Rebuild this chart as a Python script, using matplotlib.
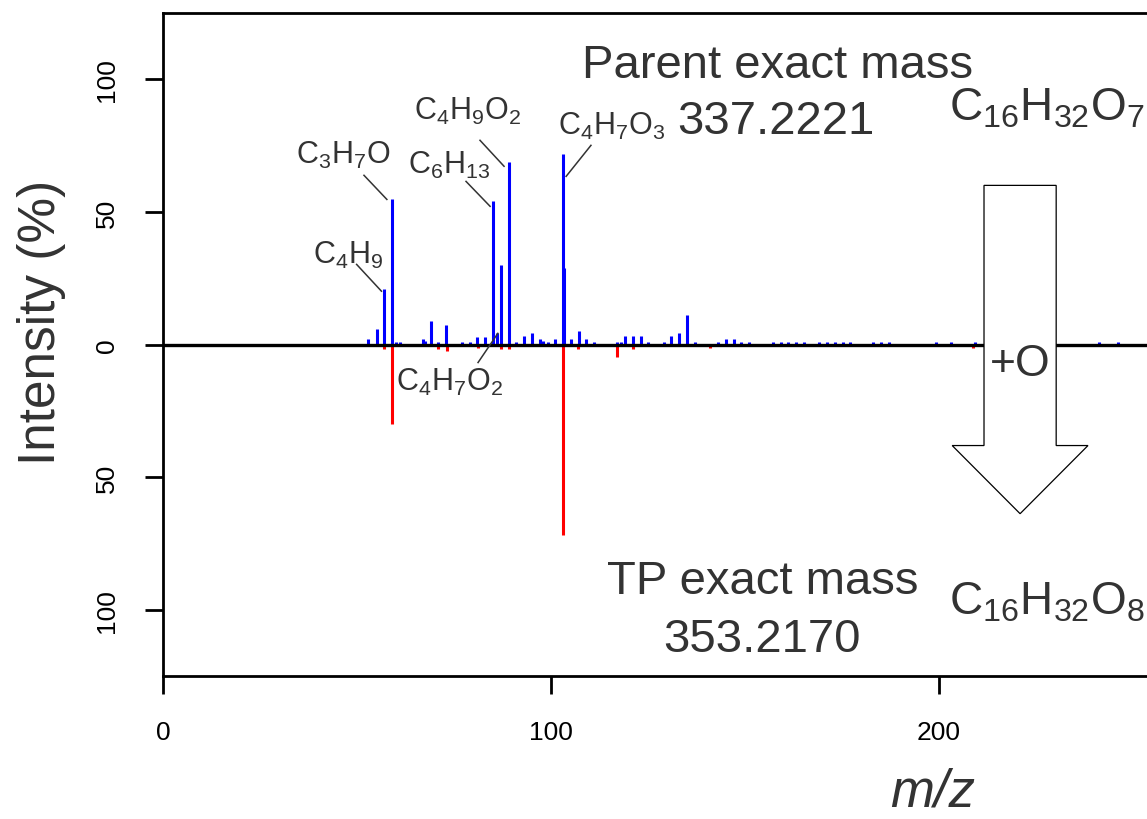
import matplotlib
matplotlib.use("Agg")
import matplotlib.pyplot as plt
from matplotlib.patches import Polygon

plt.rcParams['font.family'] = ['Liberation Sans', 'DejaVu Sans']
plt.rcParams['mathtext.fontset'] = 'custom'
plt.rcParams['mathtext.rm'] = 'Liberation Sans'
plt.rcParams['mathtext.it'] = 'Liberation Sans:italic'

# parent spectrum (drawn upward, blue)
parent_mz = [52.9, 55.1, 57.07, 59.05, 60.1, 61.1, 67.1, 67.6, 69.1, 71.0,
             73.0, 77.1, 79.0, 81.0, 83.1, 85.10, 86.0, 87.04, 89.06, 91.1,
             93.0, 95.0, 97.1, 98.0, 99.1, 101.1, 103.04, 103.4, 105.2, 107.1,
             109.1, 111.2, 117.1, 118.0, 119.2, 121.1, 123.1, 125.1, 129.0, 131.0,
             133.1, 135.1, 137.0, 143.0, 145.0, 147.1, 149.0, 151.1, 157.2, 159.2,
             161.2, 163.2, 165.2, 169.2, 171.1, 173.2, 175.2, 177.1, 183.1, 185.1,
             187.1, 199.2, 203.0, 209.2, 241.2, 246.2]
parent_int = [2.1, 6.0, 21.0, 55.0, 1.1, 1.1, 2.0, 1.5, 9.0, 1.0,
              7.2, 1.0, 1.0, 3.0, 3.0, 54.0, 4.5, 30.0, 69.0, 1.0,
              3.1, 4.2, 2.1, 1.3, 1.1, 2.1, 72.0, 29.0, 2.1, 5.2,
              2.1, 1.1, 1.0, 1.0, 3.1, 3.1, 3.1, 1.1, 1.1, 3.1,
              4.2, 11.1, 1.1, 1.1, 2.1, 2.1, 1.1, 1.1, 1.1, 1.1,
              1.1, 1.1, 1.1, 1.1, 1.1, 1.1, 1.1, 1.1, 1.1, 1.1,
              1.1, 1.0, 1.0, 1.0, 1.0, 1.0]

# transformation product spectrum (drawn downward, red)
tp_mz = [57.0, 59.05, 71.0, 73.1, 81.1, 87.1, 89.2, 103.04, 107.0, 117.1,
         121.1, 141.1, 208.7]
tp_int = [1.6, 29.8, 1.6, 2.5, 1.3, 1.6, 1.6, 72.0, 1.6, 4.7,
          1.6, 1.2, 1.5]

# fragment labels: text, text x, text baseline y, leader start, leader end
frag_labels = [r'$\mathregular{C_4H_9}$', r'$\mathregular{C_3H_7O}$',
               r'$\mathregular{C_6H_{13}}$', r'$\mathregular{C_4H_9O_2}$',
               r'$\mathregular{C_4H_7O_3}$', r'$\mathregular{C_4H_7O_2}$']
frag_xy = [(47.6, 30.9), (46.4, 68.6), (73.8, 64.8), (78.5, 84.9),
           (115.5, 79.6), (73.8, -17.0)]
frag_lines = [((49.9, 30.2), (56.3, 20.1)), ((51.8, 63.8), (57.7, 54.7)),
              ((78.1, 61.5), (84.3, 52.1)), ((81.7, 77.0), (87.9, 67.2)),
              ((110.3, 75.1), (103.9, 63.4)), ((81.2, -6.8), (86.3, 4.2))]

ytick_vals = [-100, -50, 0, 50, 100]
ytick_text = ['100', '50', '0', '50', '100']
xtick_vals = [0, 100, 200]

grey = '#333333'

fig = plt.figure(figsize=(11.47, 8.2), dpi=100)
ax = fig.add_axes([163 / 1147, 143 / 820, (1200 - 163) / 1147, 663 / 820])
ax.set_xlim(0, (1200 - 163) / 3.88)
ax.set_ylim(-125, 125)

ax.vlines(parent_mz, 0, parent_int, color='#0000ff', lw=2.2, zorder=2)
ax.vlines(tp_mz, 0, [-v for v in tp_int], color='#ff0000', lw=2.2, zorder=2)
ax.axhline(0, color='black', lw=2.4, zorder=3)

for sp in ax.spines.values():
    sp.set_linewidth(2)
ax.set_yticks(ytick_vals)
ax.set_yticklabels(ytick_text, rotation=90, va='center')
ax.set_xticks(xtick_vals)
ax.tick_params(length=13, width=2, pad=19, labelsize=19, colors='black')

for lab, (tx, ty), (p0, p1) in zip(frag_labels, frag_xy, frag_lines):
    ax.text(tx, ty, lab, fontsize=22, color=grey, ha='center', va='baseline', zorder=5)
    ax.plot([p0[0], p1[0]], [p0[1], p1[1]], color=grey, lw=1.1, zorder=5)

ax.text(158.5, 100.8, 'Parent exact mass', fontsize=34, color=grey, ha='center', va='baseline')
ax.text(158.0, 79.9, '337.2221', fontsize=34, color=grey, ha='center', va='baseline')
ax.text(202.6, 84.9, r'$\mathregular{C_{16}H_{32}O_7}$', fontsize=33, color=grey, va='baseline')
ax.text(154.5, -93.7, 'TP exact mass', fontsize=34, color=grey, ha='center', va='baseline')
ax.text(154.5, -115.7, '353.2170', fontsize=34, color=grey, ha='center', va='baseline')
ax.text(202.6, -101.6, r'$\mathregular{C_{16}H_{32}O_8}$', fontsize=33, color=grey, va='baseline')

# block arrow (+O)
arrow = Polygon([(211.6, 60), (230.2, 60), (230.2, -38.1), (238.4, -38.1),
                 (220.9, -63.8), (203.4, -38.1), (211.6, -38.1)],
                closed=True, facecolor='white', edgecolor='black', lw=0.9, zorder=4)
ax.add_patch(arrow)
ax.text(220.9, -7.0, '+O', fontsize=32, color=grey, ha='center', va='center', zorder=5)

fig.text(42 / 1147, 1 - 322 / 820, 'Intensity (%)', rotation=90, fontsize=37,
         color=grey, ha='center', va='center')
fig.text(933 / 1147, 1 - 793 / 820, 'm/z', fontsize=38, fontstyle='italic',
         color=grey, ha='center', va='center')

fig.savefig('out.png', dpi=100)
